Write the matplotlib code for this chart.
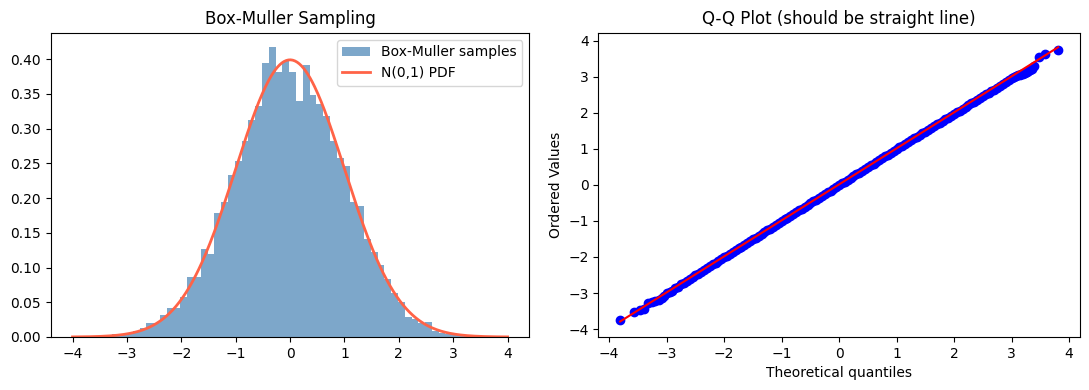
import numpy as np
import matplotlib
matplotlib.use("Agg")
import matplotlib.pyplot as plt

# ---------------- Data ----------------
# Histogram (density) of Box-Muller samples: 60 bins
bin_start = -3.767
bin_width = 0.125
hist_density = [
    0.0008, 0.0, 0.0008, 0.002, 0.005, 0.005, 0.006, 0.009, 0.0125, 0.020,
    0.020, 0.031, 0.042, 0.042, 0.057, 0.086, 0.086, 0.126, 0.120, 0.178,
    0.194, 0.233, 0.254, 0.282, 0.313, 0.333, 0.395, 0.417, 0.381, 0.397,
    0.382, 0.339, 0.392, 0.349, 0.335, 0.3175, 0.282, 0.257, 0.246, 0.194,
    0.188, 0.141, 0.122, 0.103, 0.084, 0.064, 0.050, 0.029, 0.026, 0.020,
    0.021, 0.008, 0.006, 0.005, 0.003, 0.002, 0.001, 0.0008, 0.0, 0.0008,
]
pdf_range = (-4.0, 4.0)
pdf_mu, pdf_sigma = 0.0, 1.0

# Q-Q plot points (theoretical quantile, ordered value)
qq_theoretical = [
    -3.81, -3.57, -3.47, -3.40, -3.32, -3.26, -3.20, -3.14, -3.09, -3.04, -3.00,
    -2.95, -2.90, -2.85, -2.80, -2.75, -2.70, -2.65, -2.60, -2.55, -2.50,
    -2.45, -2.40, -2.35, -2.30, -2.25, -2.20, -2.15, -2.10, -2.05, -2.00,
    -1.95, -1.90, -1.85, -1.80, -1.75, -1.70, -1.65, -1.60, -1.55, -1.50,
    -1.45, -1.40, -1.35, -1.30, -1.25, -1.20, -1.15, -1.10, -1.05, -1.00,
    -0.95, -0.90, -0.85, -0.80, -0.75, -0.70, -0.65, -0.60, -0.55, -0.50,
    -0.45, -0.40, -0.35, -0.30, -0.25, -0.20, -0.15, -0.10, -0.05, 0.00,
    0.05, 0.10, 0.15, 0.20, 0.25, 0.30, 0.35, 0.40, 0.45, 0.50,
    0.55, 0.60, 0.65, 0.70, 0.75, 0.80, 0.85, 0.90, 0.95, 1.00,
    1.05, 1.10, 1.15, 1.20, 1.25, 1.30, 1.35, 1.40, 1.45, 1.50,
    1.55, 1.60, 1.65, 1.70, 1.75, 1.80, 1.85, 1.90, 1.95, 2.00,
    2.05, 2.10, 2.15, 2.20, 2.25, 2.30, 2.35, 2.40, 2.45, 2.50,
    2.55, 2.60, 2.65, 2.70, 2.75, 2.80, 2.85, 2.90, 2.95,
    3.00, 3.04, 3.08, 3.11, 3.14, 3.17, 3.20, 3.23, 3.26, 3.29, 3.32, 3.36, 3.39,
    3.47, 3.58, 3.81,
]
qq_ordered = [
    -3.75, -3.53, -3.47, -3.45, -3.29, -3.26, -3.22, -3.18, -3.14, -3.09, -3.00,
    -2.97, -2.93, -2.87, -2.82, -2.76, -2.71, -2.67, -2.62, -2.56, -2.50,
    -2.46, -2.41, -2.35, -2.30, -2.25, -2.20, -2.16, -2.11, -2.06, -2.01,
    -1.96, -1.91, -1.86, -1.81, -1.76, -1.71, -1.66, -1.61, -1.56, -1.51,
    -1.46, -1.41, -1.36, -1.31, -1.26, -1.21, -1.16, -1.11, -1.06, -1.01,
    -0.96, -0.91, -0.86, -0.81, -0.76, -0.71, -0.66, -0.61, -0.56, -0.51,
    -0.46, -0.41, -0.36, -0.31, -0.26, -0.21, -0.16, -0.11, -0.06, -0.01,
    0.04, 0.09, 0.14, 0.19, 0.24, 0.29, 0.34, 0.39, 0.44, 0.49,
    0.54, 0.59, 0.64, 0.69, 0.74, 0.79, 0.84, 0.89, 0.94, 0.99,
    1.04, 1.09, 1.14, 1.19, 1.24, 1.29, 1.34, 1.38, 1.43, 1.48,
    1.53, 1.58, 1.63, 1.68, 1.73, 1.78, 1.83, 1.86, 1.91, 1.96,
    2.01, 2.06, 2.11, 2.16, 2.21, 2.26, 2.31, 2.36, 2.41, 2.47,
    2.51, 2.55, 2.60, 2.64, 2.69, 2.74, 2.80, 2.85, 2.91,
    2.97, 2.99, 3.02, 3.04, 3.06, 3.08, 3.09, 3.11, 3.13, 3.15, 3.18, 3.22, 3.29,
    3.55, 3.64, 3.75,
]
qq_fit_x = [-3.81, 3.81]
qq_fit_y = [-3.79, 3.82]

# ---------------- Plot ----------------
fig = plt.figure(figsize=(10.89, 3.9), dpi=100)
ax1 = fig.add_axes([0.0466, 0.1359, 0.4395, 0.780])
ax2 = fig.add_axes([0.5494, 0.1359, 0.4423, 0.780])

edges = bin_start + bin_width * np.arange(len(hist_density))
bars = ax1.bar(edges, hist_density, width=bin_width, align='edge',
               color='steelblue', alpha=0.7, linewidth=0, label='Box-Muller samples')
xs = np.linspace(pdf_range[0], pdf_range[1], 400)
pdf = np.exp(-0.5 * ((xs - pdf_mu) / pdf_sigma) ** 2) / (pdf_sigma * np.sqrt(2 * np.pi))
line, = ax1.plot(xs, pdf, color='#FF6347', linewidth=2, label='N(0,1) PDF')
ax1.set_title('Box-Muller Sampling')
ax1.legend(handles=[bars, line], loc='upper right')

ax2.plot(qq_theoretical, qq_ordered, 'bo')
ax2.plot(qq_fit_x, qq_fit_y, 'r-')
ax2.set_title('Q-Q Plot (should be straight line)')
ax2.set_xlabel('Theoretical quantiles')
ax2.set_ylabel('Ordered Values')
ax2.set_xlim(-4.19, 4.19)
ax2.set_ylim(-4.22, 4.22)

fig.savefig('out.png', dpi=100)
